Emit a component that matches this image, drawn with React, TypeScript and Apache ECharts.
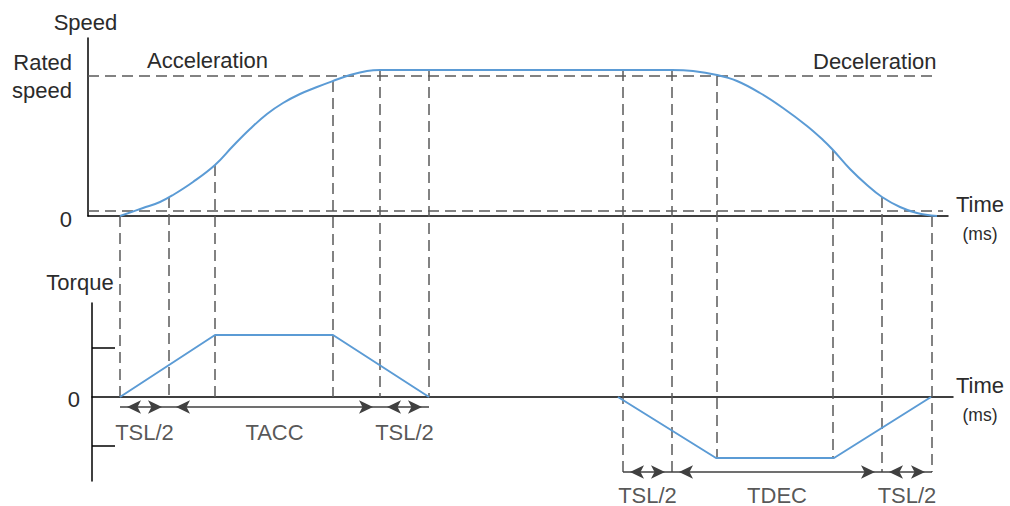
import React, { useEffect, useRef } from 'react';
import * as echarts from 'echarts';

// ---- data (time in ms, speed / torque in arbitrary units) ----
const speedTime = [32, 55, 72, 85, 105, 127, 145, 162, 179, 195, 212, 229, 245, 262, 279, 292, 584, 605, 629, 649, 672, 695, 719, 735, 745, 762, 779, 794, 812, 829, 849];
const speedValue = [0, 8, 14, 21, 34, 51, 70, 87, 102, 113, 122, 129, 135, 141, 145, 146, 146, 145, 141, 135, 123, 108, 90, 76, 66, 47, 31, 19, 9, 3, 0];

const ratedSpeed = 140;
const ratedLineEnd = 850;
const nearZeroSpeed = 5;
const nearZeroLineEnd = 855;

const torqueAccTime = [32, 127, 245, 341];
const torqueAccValue = [0, 62, 62, 0];
const torqueDecTime = [530, 628, 746, 843];
const torqueDecValue = [0, -61, -61, 0];
const torqueTicks = [-49, 49];

const guideTime = [32, 81, 127, 245, 292, 341, 535, 584, 629, 745, 794, 844];
const guideSpeedTop = [0, 19, 51, 135, 146, 146, 146, 146, 141, 66, 19, 0];
const guideTorqueBottom = [0, 0, 0, 0, 0, 0, -75, -75, -61, -61, -75, -75];

const accSpans = [[32, 81], [81, 292], [292, 341]];
const accLabels = ['TSL/2', 'TACC', 'TSL/2'];
const decSpans = [[535, 584], [584, 794], [794, 844]];
const decLabels = ['TSL/2', 'TDEC', 'TSL/2'];
const accArrowLevel = -10;
const accLabelLevel = -35;
const decArrowLevel = -75;
const decLabelLevel = -98;

// ---- styles ----
const FONT = 'Liberation Sans, Arial, Helvetica, sans-serif';
const TEXT = '#2b2b2b';
const CURVE = '#5b9bd5';
const DASH = '#5a5a5a';
const ARROW = '#404040';

export default function App() {
  const ref = useRef<HTMLDivElement>(null);

  useEffect(() => {
    document.body.style.margin = '0';
    const chart = echarts.init(ref.current!, null, { renderer: 'svg' });

    const timeName = {
      name: '{t|Time}\n{m|(ms)}',
      nameLocation: 'end' as const,
      nameTextStyle: {
        padding: [6, 0, 0, 0],
        rich: {
          t: { fontSize: 22, lineHeight: 30, color: TEXT, fontFamily: FONT, align: 'center' },
          m: { fontSize: 17.5, lineHeight: 30, color: TEXT, fontFamily: FONT, align: 'center' },
        },
      },
    };

    const arrowEnd = (t: number, level: number) => ({
      coord: [t, level],
      symbol: 'arrow',
      symbolSize: [10, 14],
      symbolOffset: [0, 7],
    });
    const arrowPairs = (spans: number[][], level: number) =>
      spans.map((s) => [arrowEnd(s[0], level), arrowEnd(s[1], level)]);
    const labelPoints = (spans: number[][], labels: string[], level: number) =>
      spans.map((s, i) => ({ name: labels[i], value: [(s[0] + s[1]) / 2, level] }));

    const option: any = {
      animation: false,
      textStyle: { fontFamily: FONT },
      grid: [
        { left: 88, top: 38, width: 860, height: 178 },
        { left: 92, top: 303, width: 861, height: 178 },
      ],
      xAxis: [
        {
          type: 'value', gridIndex: 0, min: 0, max: 860,
          axisLine: { show: true, lineStyle: { color: '#000', width: 1.5 } },
          axisTick: { show: false }, axisLabel: { show: false }, splitLine: { show: false },
          nameGap: 8, ...timeName,
        },
        {
          type: 'value', gridIndex: 1, min: 4, max: 865,
          axisLine: { show: true, onZero: true, lineStyle: { color: '#000', width: 1.5 } },
          axisTick: { show: false }, axisLabel: { show: false }, splitLine: { show: false },
          nameGap: 3, ...timeName,
        },
      ],
      yAxis: [
        {
          type: 'value', gridIndex: 0, min: 0, max: 178,
          axisLine: { show: true, onZero: false, lineStyle: { color: '#000', width: 1.5 } },
          axisTick: { show: false }, splitLine: { show: false },
          axisLabel: {
            customValues: [0, ratedSpeed],
            formatter: (v: number) => (v === 0 ? '{z|0}' : 'Rated\nspeed'),
            fontSize: 22, lineHeight: 28, color: TEXT, margin: 16, fontFamily: FONT,
            rich: { z: { fontSize: 22, color: TEXT, fontFamily: FONT, padding: [7, 0, 0, 0] } },
          },
          name: 'Speed', nameLocation: 'end', nameGap: 5,
          nameTextStyle: { fontSize: 22, color: TEXT, fontFamily: FONT, padding: [0, 5, 0, 0] },
        },
        {
          type: 'value', gridIndex: 1, min: -84, max: 94,
          axisLine: { show: true, onZero: false, lineStyle: { color: '#000', width: 1.5 } },
          axisTick: { show: true, inside: true, length: 23, customValues: torqueTicks, lineStyle: { color: '#000', width: 1.5 } },
          splitLine: { show: false },
          axisLabel: {
            customValues: [0], formatter: () => '{z|0}',
            fontSize: 22, color: TEXT, margin: 12, fontFamily: FONT,
            rich: { z: { fontSize: 22, color: TEXT, fontFamily: FONT, padding: [5, 0, 0, 0] } },
          },
          name: 'Torque', nameLocation: 'end', nameGap: 10,
          nameTextStyle: { fontSize: 22, color: TEXT, fontFamily: FONT, padding: [0, 24, 0, 0] },
        },
      ],
      series: [
        {
          type: 'line', xAxisIndex: 0, yAxisIndex: 0, z: 2,
          data: [[0, ratedSpeed], [ratedLineEnd, ratedSpeed]],
          showSymbol: false, silent: true,
          lineStyle: { color: DASH, width: 1.5, type: [11, 6] },
        },
        {
          type: 'line', xAxisIndex: 0, yAxisIndex: 0, z: 2,
          data: [[0, nearZeroSpeed], [nearZeroLineEnd, nearZeroSpeed]],
          showSymbol: false, silent: true,
          lineStyle: { color: DASH, width: 1.5, type: [11, 6] },
        },
        {
          type: 'line', xAxisIndex: 0, yAxisIndex: 0, z: 4,
          data: speedTime.map((t, i) => [t, speedValue[i]]),
          smooth: 0.4, showSymbol: false, silent: true,
          lineStyle: { color: CURVE, width: 2 },
        },
        {
          type: 'line', xAxisIndex: 1, yAxisIndex: 1, z: 4,
          data: torqueAccTime.map((t, i) => [t, torqueAccValue[i]]),
          showSymbol: false, silent: true,
          lineStyle: { color: CURVE, width: 2 },
        },
        {
          type: 'line', xAxisIndex: 1, yAxisIndex: 1, z: 4,
          data: torqueDecTime.map((t, i) => [t, torqueDecValue[i]]),
          showSymbol: false, silent: true,
          lineStyle: { color: CURVE, width: 2 },
        },
        {
          type: 'line', xAxisIndex: 1, yAxisIndex: 1, data: [], silent: true,
          markLine: {
            silent: true, animation: false,
            symbol: ['arrow', 'arrow'],
            symbolSize: 14,
            label: { show: false },
            emphasis: { disabled: true },
            lineStyle: { color: ARROW, width: 1.5, type: 'solid' },
            itemStyle: { color: ARROW },
            data: [...arrowPairs(accSpans, accArrowLevel), ...arrowPairs(decSpans, decArrowLevel)],
          },
        },
        {
          type: 'scatter', xAxisIndex: 1, yAxisIndex: 1, clip: false, silent: true,
          symbolSize: 0,
          data: [
            ...labelPoints(accSpans, accLabels, accLabelLevel),
            ...labelPoints(decSpans, decLabels, decLabelLevel),
          ],
          label: {
            show: true, position: 'inside', formatter: '{b}',
            fontSize: 22, color: TEXT, fontFamily: FONT,
          },
        },
      ],
    };

    chart.setOption(option);

    const guides = guideTime.map((t, i) => {
      const p1 = chart.convertToPixel({ gridIndex: 0 }, [t, guideSpeedTop[i]]) as number[];
      const p2 = chart.convertToPixel({ gridIndex: 1 }, [t, guideTorqueBottom[i]]) as number[];
      return {
        type: 'line', silent: true, z: 1,
        shape: { x1: p1[0], y1: p1[1], x2: p1[0], y2: p2[1] },
        style: { stroke: DASH, lineWidth: 1.5, lineDash: [11, 6] },
      };
    });

    chart.setOption({
      graphic: [
        ...guides,
        {
          type: 'text', left: 147, top: 49, silent: true,
          style: { text: 'Acceleration', fontSize: 22, fill: TEXT, fontFamily: FONT },
        },
        {
          type: 'text', left: 813, top: 50, silent: true,
          style: { text: 'Deceleration', fontSize: 22, fill: TEXT, fontFamily: FONT },
        },
      ],
    });

    return () => chart.dispose();
  }, []);

  return <div ref={ref} style={{ width: 1010, height: 506 }} />;
}
